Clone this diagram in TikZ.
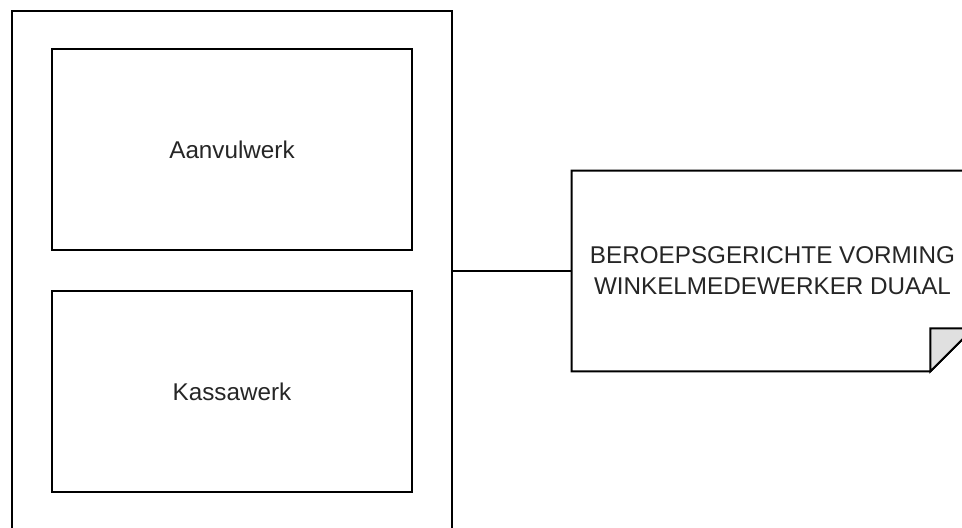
\documentclass[tikz,border=0pt]{standalone}
\usepackage{fontspec}
\setmainfont{Liberation Sans}
\usepackage{tikz}
\usetikzlibrary{positioning,calc}
\tikzset{
  lane/.style={draw, line width=1.1pt, minimum width=8.8cm, minimum height=10.42cm},
  task/.style={draw, line width=1.1pt, minimum width=7.2cm, minimum height=4.02cm, align=center},
  notebox/.style={minimum width=8.02cm, minimum height=4cm, align=center},
  label/.style={font=\fontsize{13.8}{17.6}\selectfont, text=black!85},
  link/.style={line width=1.1pt},
}

\begin{document}
\begin{tikzpicture}[x=0.02cm, y=-0.02cm]
\useasboundingbox (0,0) rectangle (962,527);
\clip (0,0) rectangle (962,527);
\fill[white] (0,0) rectangle (962,527);

% outer group with the two tasks
\node[lane] (lane) at (232,271) {};
\node[task, label] (aanvul) at (232,149.5) {Aanvulwerk};
\node[task, label] (kassa) at (232,391.5) {Kassawerk};

% note with folded corner
\node[notebox, label] (vorming) at (772.5,271) {BEROEPSGERICHTE VORMING\\WINKELMEDEWERKER DUAAL};
\draw[link] (vorming.north west) -- (vorming.north east)
  -- ([yshift=0.86cm]vorming.south east) -- ([xshift=-0.86cm]vorming.south east)
  -- (vorming.south west) -- cycle;
\draw[link, fill=black!12] ([xshift=-0.86cm]vorming.south east)
  -- ([xshift=-0.86cm, yshift=0.86cm]vorming.south east)
  -- ([yshift=0.86cm]vorming.south east) -- cycle;

\draw[link] (lane.east) -- (vorming.west);
\end{tikzpicture}
\end{document}
